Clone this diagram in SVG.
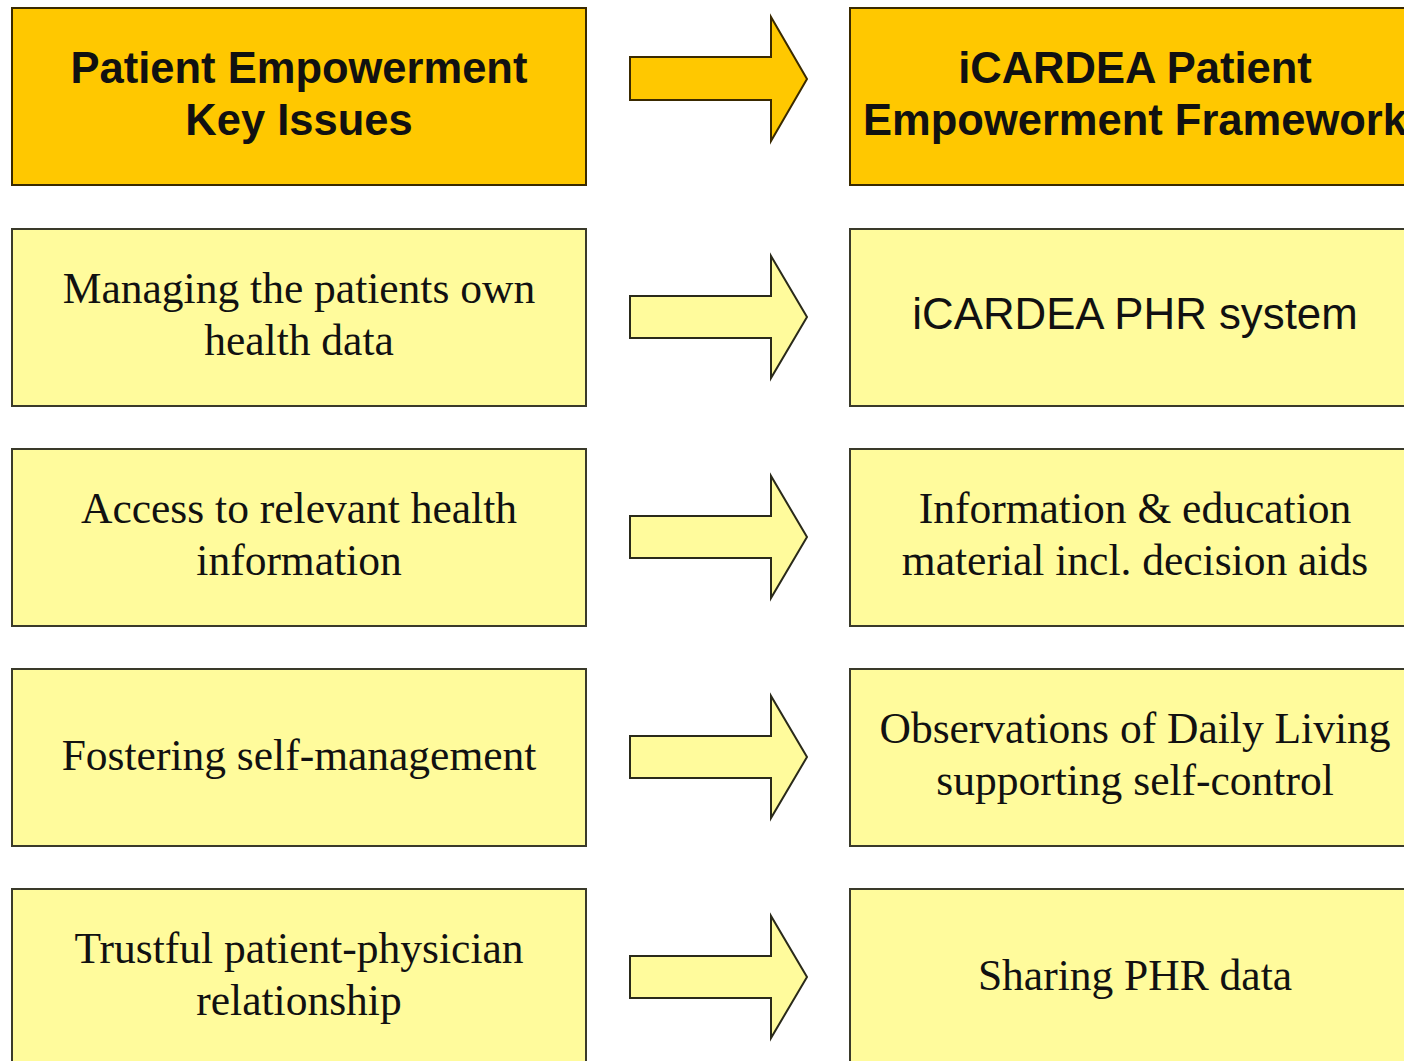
<svg xmlns="http://www.w3.org/2000/svg" width="1404" height="1061" viewBox="0 0 1404 1061">
<style>
.hdr{fill:#FFC800;stroke:#3a2a00;stroke-width:2}
.box{fill:#FFFB9C;stroke:#3a3a2a;stroke-width:2}
.ahdr{fill:#FFC800;stroke:#3a2a00;stroke-width:2;stroke-linejoin:miter}
.abox{fill:#FFFB9C;stroke:#2a2a1a;stroke-width:2;stroke-linejoin:miter}
.th{font-family:"Liberation Sans",Arial,sans-serif;font-weight:bold;font-size:43.5px;fill:#111;text-anchor:middle}
.ts{font-family:"Liberation Sans",Arial,sans-serif;font-size:43.8px;fill:#111;text-anchor:middle}
.t{font-family:"Liberation Serif","Times New Roman",serif;font-size:43.5px;fill:#111;text-anchor:middle}
</style>
<rect width="1404" height="1061" fill="#ffffff"/>
<g id="left-header"><rect class="hdr" x="12" y="8" width="574" height="177"/>
<text class="th" x="299" y="83">Patient Empowerment</text><text class="th" x="299" y="135">Key Issues</text></g>
<g id="right-header"><rect class="hdr" x="850" y="8" width="574" height="177"/>
<text class="th" x="1135" y="83">iCARDEA Patient</text><text class="th" x="1135" y="135">Empowerment Framework</text></g>
<g id="left-1"><rect class="box" x="12" y="229" width="574" height="177"/>
<text class="t" x="299" y="303">Managing the patients own</text><text class="t" x="299" y="355">health data</text></g>
<g id="right-1"><rect class="box" x="850" y="229" width="574" height="177"/>
<text class="ts" x="1135" y="329">iCARDEA PHR system</text></g>
<g id="left-2"><rect class="box" x="12" y="449" width="574" height="177"/>
<text class="t" x="299" y="523">Access to relevant health</text><text class="t" x="299" y="575">information</text></g>
<g id="right-2"><rect class="box" x="850" y="449" width="574" height="177"/>
<text class="t" x="1135" y="523">Information &amp; education</text><text class="t" x="1135" y="575">material incl. decision aids</text></g>
<g id="left-3"><rect class="box" x="12" y="669" width="574" height="177"/>
<text class="t" x="299" y="770">Fostering self-management</text></g>
<g id="right-3"><rect class="box" x="850" y="669" width="574" height="177"/>
<text class="t" x="1135" y="743">Observations of Daily Living</text><text class="t" x="1135" y="795">supporting self-control</text></g>
<g id="left-4"><rect class="box" x="12" y="889" width="574" height="190"/>
<text class="t" x="299" y="963">Trustful patient-physician</text><text class="t" x="299" y="1015">relationship</text></g>
<g id="right-4"><rect class="box" x="850" y="889" width="574" height="190"/>
<text class="t" x="1135" y="990">Sharing PHR data</text></g>
<g id="connectors">
<path class="ahdr" d="M630 57 H771 V17 L807 79 L771 141 V100 H630 Z"/>
<path class="abox" d="M630 296 H771 V256 L807 317 L771 378 V338 H630 Z"/>
<path class="abox" d="M630 516 H771 V476 L807 537 L771 598 V558 H630 Z"/>
<path class="abox" d="M630 736 H771 V696 L807 757 L771 818 V778 H630 Z"/>
<path class="abox" d="M630 956 H771 V916 L807 977 L771 1038 V998 H630 Z"/>
</g>
</svg>
